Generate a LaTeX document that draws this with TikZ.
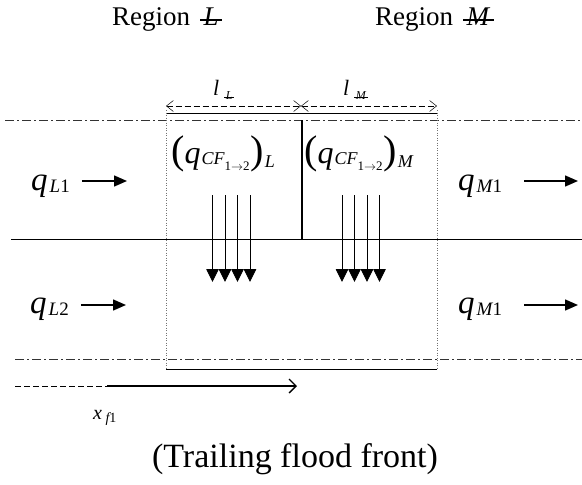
\documentclass[tikz,border=0pt]{standalone}
\usepackage{fontspec}
\setmainfont{Liberation Serif}
\usetikzlibrary{arrows.meta,calc}
\newcommand{\strk}[1]{\setbox0\hbox{\textit{#1}}\rlap{\hspace{-0.12em}\rule[0.3ex]{\dimexpr\wd0+0.24em\relax}{0.07em}}\box0}
\newcommand{\fsz}[1]{\fontsize{#1}{#1}\selectfont}
% q with subscript: #1 = italic letter, #2 = upright digit
\newcommand{\qsub}[2]{{\fsz{33}\itshape q}\hspace{0.2em}\raisebox{-0.2em}{\fsz{19}\itshape #1\upshape #2}}
% crossflow term: #1 = outer subscript
\newcommand{\qcf}[1]{{\fsz{40}(}{\fsz{32}\itshape q}\hspace{0.1em}\raisebox{-0.16em}{\fsz{18}\itshape CF\raisebox{-0.3em}{\fsz{13}\upshape 1$\to$2}}\hspace{0.05em}{\fsz{40})}\hspace{0.15em}\raisebox{-0.4em}{\fsz{18}\itshape #1}}
\tikzset{
  dashline/.style={line width=0.6pt, dash pattern=on 9pt off 3pt on 2pt off 3pt, black!80},
  dotv/.style={line width=0.5pt, dotted, black!55},
  dimarrow/.style={line width=0.5pt, dash pattern=on 6pt off 3pt, {Straight Barb[length=7pt,width=11pt]}-{Straight Barb[length=7pt,width=11pt]}},
  flow/.style={line width=1.5pt, -{Triangle[length=13pt,width=11pt]}},
  downarr/.style={line width=0.9pt, -{Triangle[length=13pt,width=12.5pt]}},
  txt/.style={inner sep=0pt, anchor=base west},
}
\begin{document}
\begin{tikzpicture}[x=1pt,y=-1pt]
\useasboundingbox (0,0) rectangle (582,485);
% region titles
\node[txt, font=\fsz{27}] (regL) at (112,25) {Region\ \ \strk{L}};
\node[txt, font=\fsz{27}] (regM) at (375,25) {Region\ \ \strk{M}};
% dimension labels
\node[txt, font=\fsz{22}] (lL) at (213,95) {\textit{l}\hspace{0.3em}\raisebox{-0.2em}{\fsz{12}\strk{L}}};
\node[txt, font=\fsz{22}] (lM) at (343,95) {\textit{l}\hspace{0.3em}\raisebox{-0.2em}{\fsz{12}\strk{M}}};
% dimension arrows
\coordinate (dL) at (166,106);
\coordinate (dC) at (301,106);
\coordinate (dR) at (437,106);
\draw[dimarrow] (dL) -- (dC);
\draw[dimarrow] (dC) -- (dR);
\coordinate (sL) at (166,113);
\coordinate (sR) at (437,113);
\draw[line width=0.8pt] (sL) -- (sR);
% top and bottom boundary lines
\coordinate (tl) at (5,120);
\coordinate (tr) at (582,120);
\draw[dashline] (tl) -- (tr);
\coordinate (bl) at (15,359);
\coordinate (br) at (582,359);
\draw[dashline] (bl) -- (br);
% middle line
\coordinate (ml) at (11,239);
\coordinate (mr) at (582,239);
\draw[line width=1pt] (ml) -- (mr);
% vertical dotted region bounds
\coordinate (vLt) at (166,110);
\coordinate (vLb) at (166,369);
\coordinate (vRt) at (437,110);
\coordinate (vRb) at (437,369);
\draw[dotv] (vLt) -- (vLb);
\draw[dotv] (vRt) -- (vRb);
% bottom bracket line
\draw[line width=0.9pt] (vLb) -- (vRb);
% thick divider
\coordinate (thT) at (302,120);
\coordinate (thB) at (302,239);
\draw[line width=2.2pt] (thT) -- (thB);
% crossflow labels
\node[txt] (qcfL) at (171,163) {\qcf{L}};
\node[txt] (qcfM) at (304,163) {\qcf{M}};
% down arrows
\foreach \x [count=\i] in {212.5,225,237.5,250} {
  \coordinate (aLt\i) at (\x,195);
  \coordinate (aLb\i) at (\x,282);
  \draw[downarr] (aLt\i) -- (aLb\i);
}
\foreach \x [count=\i] in {342,354.5,367,379.5} {
  \coordinate (aMt\i) at (\x,195);
  \coordinate (aMb\i) at (\x,282);
  \draw[downarr] (aMt\i) -- (aMb\i);
}
% flow labels
\node[txt] (qL1) at (31,190) {\qsub{L}{1}};
\coordinate (qL1e) at (127,181);
\draw[flow] let \p1=(qL1.east), \p2=(qL1e) in (\x1+12pt,\y2) -- (qL1e);
\node[txt] (qM1a) at (458,190) {\qsub{M}{1}};
\coordinate (qM1ae) at (578,181);
\draw[flow] let \p1=(qM1a.east), \p2=(qM1ae) in (\x1+22pt,\y2) -- (qM1ae);
\node[txt] (qL2) at (30,313) {\qsub{L}{2}};
\coordinate (qL2e) at (126,305);
\draw[flow] let \p1=(qL2.east), \p2=(qL2e) in (\x1+12pt,\y2) -- (qL2e);
\node[txt] (qM1b) at (458,313) {\qsub{M}{1}};
\coordinate (qM1be) at (578,305);
\draw[flow] let \p1=(qM1b.east), \p2=(qM1be) in (\x1+22pt,\y2) -- (qM1be);
% x_f1 arrow
\coordinate (xs) at (15,386);
\coordinate (xm) at (107,386);
\coordinate (xe) at (297,386);
\draw[line width=0.5pt, dash pattern=on 6pt off 3pt] (xs) -- (xm);
\draw[line width=1.3pt, -{Straight Barb[length=7pt,width=14pt]}] (xm) -- (xe);
\node[txt] (xf) at (93,419) {{\fsz{20}\itshape x}\hspace{0.35em}\raisebox{-0.3em}{\fsz{14}\itshape f\upshape 1}};
% caption
\node[inner sep=0pt, font=\fsz{34}] (cap) at (295,459) {(Trailing flood front)};
\end{tikzpicture}
\end{document}
